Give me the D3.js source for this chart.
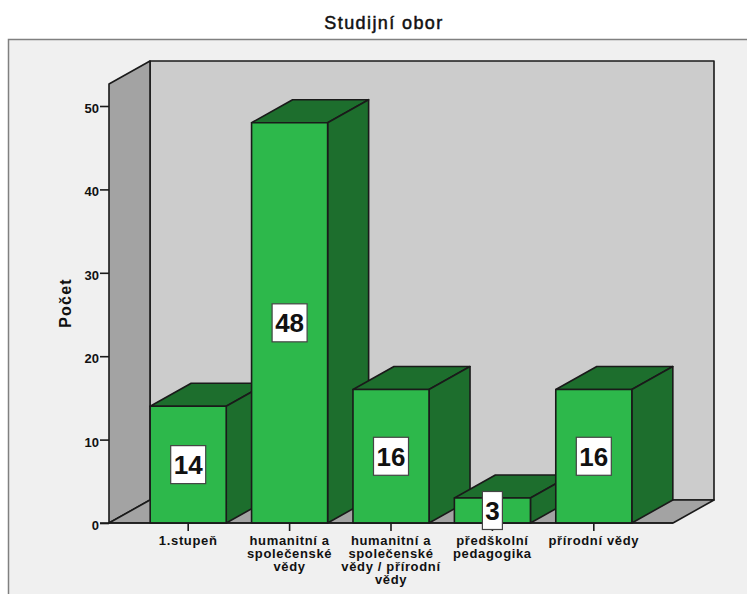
<!DOCTYPE html>
<html lang="cs">
<head>
<meta charset="utf-8">
<title>Studijní obor</title>
<script src="https://cdn.jsdelivr.net/npm/d3@7"></script>
<style>
  html, body { margin: 0; padding: 0; background: #fff; }
  svg { display: block; font-family: "Liberation Sans", Arial, sans-serif; }
</style>
</head>
<body>
<svg id="chart" width="747" height="594"></svg>
<script>
// Study programme counts
const categories = [
  "1.stupeň",
  "humanitní a společenské vědy",
  "humanitní a společenské vědy / přírodní vědy",
  "předškolní pedagogika",
  "přírodní vědy"
];
const categoryLines = [
  ["1.stupeň"],
  ["humanitní a", "společenské", "vědy"],
  ["humanitní a", "společenské", "vědy / přírodní", "vědy"],
  ["předškolní", "pedagogika"],
  ["přírodní vědy"]
];
const counts = [14, 48, 16, 3, 16];
const yTicks = [0, 10, 20, 30, 40, 50];
const chartTitle = "Studijní obor";
const yTitle = "Počet";

const svg = d3.select("#chart");

// Plot box of the front plane, and the offset of the back plane
const plotLeft = 109, plotRight = 673, plotBase = 523, plotTop = 84;
const depthX = 41, depthY = 23;
const ink = "#1a1a1a";

const x = d3.scaleBand().domain(categories).range([plotLeft, plotRight])
  .paddingInner(0.25).paddingOuter(0.406);
const y = d3.scaleLinear().domain([0, 50]).range([plotBase, 106]);

// Outer panel, open on the right and at the bottom
svg.append("rect").attr("x", 8.5).attr("y", 39.5).attr("width", 760).attr("height", 580)
  .attr("fill", "#f0f0f0").attr("stroke", "#808080").attr("stroke-width", 1.5);

svg.append("text").attr("x", 384).attr("y", 29).attr("text-anchor", "middle")
  .attr("font-size", 18).attr("letter-spacing", 1.4)
  .attr("fill", "#111").attr("stroke", "#111").attr("stroke-width", 0.5)
  .text(chartTitle);

const poly = (pts, fill) => svg.append("polygon")
  .attr("points", pts.map(p => p.join(",")).join(" "))
  .attr("fill", fill).attr("stroke", ink).attr("stroke-width", 1.6)
  .attr("stroke-linejoin", "round");

// Box walls
poly([[plotLeft + depthX, plotTop - depthY], [plotRight + depthX, plotTop - depthY],
      [plotRight + depthX, plotBase - depthY], [plotLeft + depthX, plotBase - depthY]], "#cccccc");
poly([[plotLeft, plotTop], [plotLeft + depthX, plotTop - depthY],
      [plotLeft + depthX, plotBase - depthY], [plotLeft, plotBase]], "#a3a3a3");
poly([[plotLeft, plotBase], [plotLeft + depthX, plotBase - depthY],
      [plotRight + depthX, plotBase - depthY], [plotRight, plotBase]], "#a3a3a3");

// Y axis
const yAxis = d3.axisLeft(y).tickValues(yTicks).tickSize(9).tickPadding(1).tickFormat(d3.format("d"));
const gy = svg.append("g").attr("transform", `translate(${plotLeft},0)`).call(yAxis);
gy.select(".domain").remove();
gy.selectAll("line").attr("stroke", ink).attr("stroke-width", 1.6);
gy.selectAll("text").attr("font-size", 13).attr("font-weight", "bold").attr("dy", "0.5em")
  .attr("font-family", "Liberation Sans").attr("fill", "#111");

svg.append("text").attr("transform", "translate(71,303) rotate(-90)")
  .attr("text-anchor", "middle").attr("font-size", 16).attr("font-weight", "bold")
  .attr("letter-spacing", 1.2).attr("fill", "#111").text(yTitle);

// X axis with wrapped category labels
const xAxis = d3.axisBottom(x).tickSize(8).tickFormat("");
const gx = svg.append("g").attr("transform", `translate(0,${plotBase})`).call(xAxis);
gx.select(".domain").remove();
gx.selectAll("line").attr("stroke", ink).attr("stroke-width", 1.6);

const labelGroup = svg.append("g").attr("font-size", 13).attr("font-weight", "bold")
  .attr("letter-spacing", 0.65).attr("fill", "#111");
categories.forEach((c, i) => {
  const t = labelGroup.append("text").attr("text-anchor", "middle")
    .attr("x", x(c) + x.bandwidth() / 2).attr("y", 545);
  categoryLines[i].forEach((line, j) => {
    t.append("tspan").attr("x", x(c) + x.bandwidth() / 2)
      .attr("dy", j ? 12.9 : 0).text(line);
  });
});

// Bars, left to right so that each front face covers its neighbour's side
counts.forEach((v, i) => {
  const c = categories[i];
  const x0 = x(c), x1 = x0 + x.bandwidth(), yv = y(v);
  const front = "#2db84b", shade = "#1d6e2d";
  poly([[x0, yv], [x0 + depthX, yv - depthY], [x1 + depthX, yv - depthY], [x1, yv]], shade);
  poly([[x1, yv], [x1 + depthX, yv - depthY], [x1 + depthX, plotBase - depthY], [x1, plotBase]], shade);
  poly([[x0, yv], [x1, yv], [x1, plotBase], [x0, plotBase]], front);
});

// Baseline along the front edge
svg.append("line").attr("x1", 100).attr("x2", plotRight).attr("y1", plotBase).attr("y2", plotBase)
  .attr("stroke", ink).attr("stroke-width", 1.6);

// Value boxes centred on each bar's front face
counts.forEach((v, i) => {
  const cx = x(categories[i]) + x.bandwidth() / 2;
  const cy = (y(v) + plotBase) / 2;
  const w = String(v).length > 1 ? 35 : 20, h = 38;
  svg.append("rect").attr("x", cx - w / 2).attr("y", cy - h / 2).attr("width", w).attr("height", h)
    .attr("fill", "#fff").attr("stroke", "#444").attr("stroke-width", 1.2);
  svg.append("text").attr("x", cx).attr("y", cy + 9.5).attr("text-anchor", "middle")
    .attr("font-size", 26).attr("font-weight", "bold").attr("fill", "#111").text(v);
});
</script>
</body>
</html>
